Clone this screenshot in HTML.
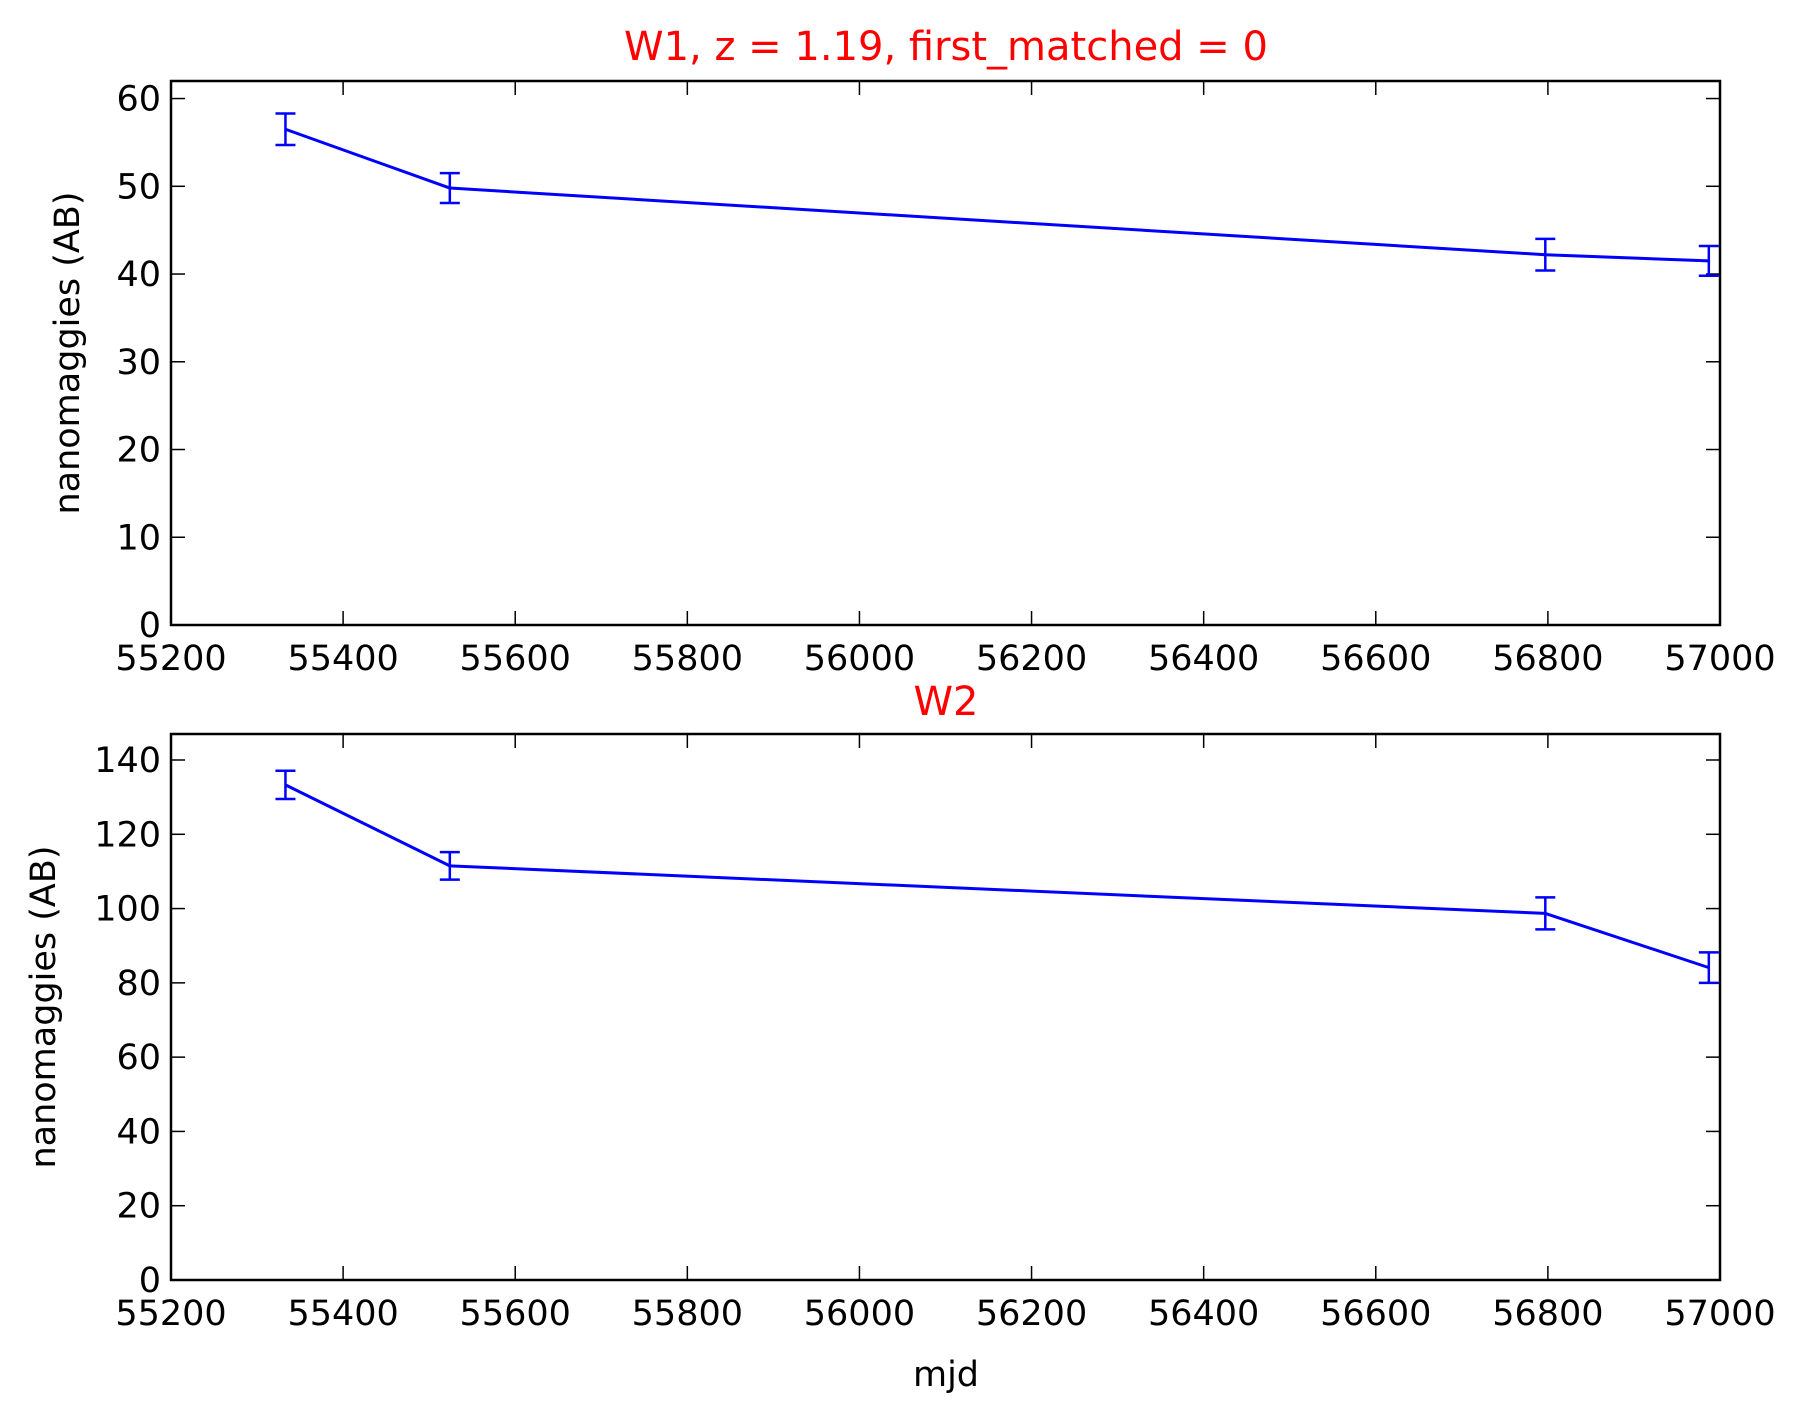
<!DOCTYPE html>
<html><head><meta charset="utf-8"><style>
body{margin:0;background:#fff}
svg{display:block;font-family:"DejaVu Sans","Liberation Sans",sans-serif}
</style></head><body>
<svg id="chart" width="1808" height="1420" viewBox="0 0 1808 1420">
<text x="946" y="60" font-size="40" fill="#ff0000" text-anchor="middle">W1, z = 1.19, first_matched = 0</text>
<text x="946" y="715" font-size="40" fill="#ff0000" text-anchor="middle">W2</text>
<text x="946" y="1386" font-size="35" fill="#000" text-anchor="middle">mjd</text>
<g id="p1"></g>
<g id="p2"></g>
</svg>
<script>
const mjd = [55333, 55524, 56797, 56987];
const w1Flux = [56.5, 49.8, 42.2, 41.5];
const w1Err = [1.8, 1.7, 1.8, 1.7];
const w2Flux = [133.3, 111.5, 98.7, 84.1];
const w2Err = [3.8, 3.7, 4.3, 4.1];
const xTicks = [55200, 55400, 55600, 55800, 56000, 56200, 56400, 56600, 56800, 57000];
const w1YTicks = [0, 10, 20, 30, 40, 50, 60];
const w2YTicks = [0, 20, 40, 60, 80, 100, 120, 140];

const NS = "http://www.w3.org/2000/svg";
function mk(tag, attrs, parent){const e=document.createElementNS(NS,tag);for(const k in attrs)e.setAttribute(k,attrs[k]);parent.appendChild(e);return e;}
const L=171,R=1720,xmin=55200,xmax=57000;
const xs=v=>L+(v-xmin)/(xmax-xmin)*(R-L);

function panel(g, top, bottom, ymax, yTicks, flux, err, ylabelX, prefix){
  const ys=v=>bottom-v/ymax*(bottom-top);
  const frame=mk('rect',{x:L,y:top,width:R-L,height:bottom-top,fill:'none',stroke:'#000','stroke-width':2.5},g);
  
  
  xTicks.forEach(t=>{
    const x=xs(t);
    const a=mk('line',{x1:x,y1:bottom,x2:x,y2:bottom-14,stroke:'#000','stroke-width':1.5},g);
    
    
    const b=mk('line',{x1:x,y1:top,x2:x,y2:top+14,stroke:'#000','stroke-width':1.5},g);
    
    
    const tx=mk('text',{x:x,y:bottom+45,'font-size':35,'text-anchor':'middle',fill:'#000'},g);
    tx.textContent=t;
    
    
  });
  yTicks.forEach(t=>{
    const y=ys(t);
    const a=mk('line',{x1:L,y1:y,x2:L+14,y2:y,stroke:'#000','stroke-width':1.5},g);
    
    
    const b=mk('line',{x1:R,y1:y,x2:R-14,y2:y,stroke:'#000','stroke-width':1.5},g);
    
    
    const tx=mk('text',{x:L-10,y:y+12,'font-size':35,'text-anchor':'end',fill:'#000'},g);
    tx.textContent=t;
    
    
  });
  const yl=mk('text',{x:0,y:0,'font-size':35,'text-anchor':'middle',fill:'#000',transform:`translate(${ylabelX},${(top+bottom)/2}) rotate(-90)`},g);
  yl.textContent='nanomaggies (AB)';
  
  
  const pts=mjd.map((m,i)=>xs(m)+','+ys(flux[i])).join(' ');
  const line=mk('polyline',{points:pts,fill:'none',stroke:'#0000ff','stroke-width':3,'stroke-linejoin':'round'},g);
  
  
  mjd.forEach((m,i)=>{
    const x=xs(m),y1=ys(flux[i]-err[i]),y2=ys(flux[i]+err[i]);
    const eg=mk('g',{stroke:'#0000ff','stroke-width':2.5},g);
    
    
    mk('line',{x1:x,y1:y1,x2:x,y2:y2},eg);
    mk('line',{x1:x-10,y1:y1,x2:x+10,y2:y1},eg);
    mk('line',{x1:x-10,y1:y2,x2:x+10,y2:y2},eg);
  });
}
panel(document.getElementById('p1'),81,625,62,w1YTicks,w1Flux,w1Err,79,'w1');
panel(document.getElementById('p2'),734,1280,147,w2YTicks,w2Flux,w2Err,55,'w2');
</script>
</body></html>
